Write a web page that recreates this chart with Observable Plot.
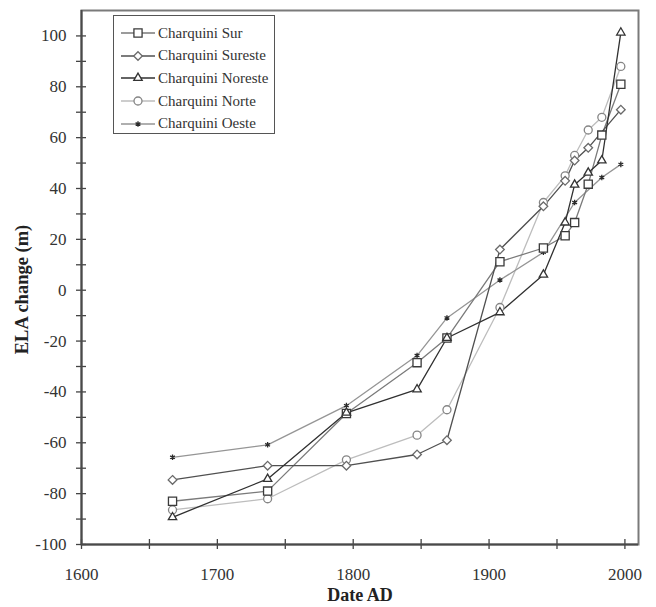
<!DOCTYPE html>
<html><head><meta charset="utf-8">
<script src="https://cdn.jsdelivr.net/npm/d3@7"></script>
<script src="https://cdn.jsdelivr.net/npm/@observablehq/plot@0.6"></script>
<style>
body{margin:0;background:#fff;}
#wrap{position:relative;width:656px;height:607px;}
#legend{position:absolute;left:113px;top:15px;width:162px;height:119px;border:1.5px solid #555;background:#fff;font-family:"Liberation Serif",serif;font-size:15px;color:#333;box-sizing:border-box;padding-top:6px;}
.row{display:flex;align-items:center;height:22.6px;}
.row svg{margin-left:6px;margin-right:2px;}
</style></head>
<body><div id="wrap"><div id="chart"></div><div id="legend"></div></div>
<script>
// ---- data ----
const seriesNames = ["Charquini Sur","Charquini Sureste","Charquini Noreste","Charquini Norte","Charquini Oeste"];
const surDates = [1667,1737,1795,1847,1869,1908,1940,1956,1963,1973,1983,1997];
const surELA   = [-83,-79,-48.5,-28.5,-18.8,11.2,16.6,21.4,26.6,41.7,61,81];
const suresteDates = [1667,1737,1795,1847,1869,1908,1940,1956,1963,1973,1997];
const suresteELA   = [-74.6,-69,-69,-64.6,-59,16,33,43,51,56,71];
const noresteDates = [1667,1737,1795,1847,1869,1908,1940,1956,1963,1973,1983,1997];
const noresteELA   = [-89.3,-74.2,-48.2,-39,-18.8,-8.7,6.1,26.6,41.5,46.2,51,101.3];
const norteDates = [1667,1737,1795,1847,1869,1908,1940,1956,1963,1973,1983,1997];
const norteELA   = [-86.4,-82,-66.7,-57,-47,-6.8,34.5,45,53,63,68,88];
const oesteDates = [1667,1737,1795,1847,1869,1908,1940,1963,1983,1997];
const oesteELA   = [-65.7,-60.8,-45.4,-25.7,-10.9,4,14.9,34.5,44.3,49.5];
const xTickLabels = [1600,1700,1800,1900,2000];
const yTickLabels = [-100,-80,-60,-40,-20,0,20,40,60,80,100];

// ---- styles ----
const styles = {
  "Charquini Sur":     {line:"#7a7a7a", mark:"#3a3a3a", symbol:"square",   r:4.6},
  "Charquini Sureste": {line:"#505050", mark:"#6a6a6a", symbol:"diamond2", r:3.9},
  "Charquini Noreste": {line:"#303030", mark:"#333333", symbol:"triangle2",r:4.0},
  "Charquini Norte":   {line:"#bdbdbd", mark:"#858585", symbol:"circle",   r:4.0},
  "Charquini Oeste":   {line:"#959595", mark:"#2a2a2a", symbol:"asterisk", r:2.6}
};
const seriesData = {
  "Charquini Sur": [surDates, surELA],
  "Charquini Sureste": [suresteDates, suresteELA],
  "Charquini Noreste": [noresteDates, noresteELA],
  "Charquini Norte": [norteDates, norteELA],
  "Charquini Oeste": [oesteDates, oesteELA]
};
const rows = name => seriesData[name][0].map((d,i)=>({series:name, date:d, ela:seriesData[name][1][i]}));
const drawOrder = ["Charquini Norte","Charquini Oeste","Charquini Sur","Charquini Sureste","Charquini Noreste"];

const marks = [
  Plot.frame({stroke:"#7a7a7a", strokeWidth:2}),
  Plot.axisX({ticks:d3.range(1600,2001,50), tickSize:10, dy:-5, tickFormat:()=>"", label:null, stroke:"#444", strokeWidth:1.3}),
  Plot.axisY({ticks:d3.range(-100,101,10), tickSize:10, dx:5, tickFormat:()=>"", label:null, stroke:"#444", strokeWidth:1.3}),
  Plot.axisX({ticks:xTickLabels, tickSize:0, tickPadding:23, tickFormat:d=>String(d), label:null, fill:"#333", fontSize:17}),
  Plot.axisY({ticks:yTickLabels, tickSize:0, tickPadding:15, tickFormat:d=>String(d), label:null, fill:"#333", fontSize:17}),
  Plot.ruleX([1600], {stroke:"#4a4a4a", strokeWidth:2}),
  Plot.ruleY([-100], {stroke:"#4a4a4a", strokeWidth:2}),
  Plot.text(["Date AD"], {frameAnchor:"bottom", textAnchor:"middle", dy:56, fontWeight:"bold", fontSize:18, fill:"#222"}),
  Plot.text(["ELA change (m)"], {frameAnchor:"left", textAnchor:"middle", dx:-59, dy:12, rotate:-90, fontWeight:"bold", fontSize:18.5, fill:"#222"})
];
for (const name of drawOrder) {
  const s = styles[name];
  marks.push(Plot.line(rows(name), {x:"date", y:"ela", stroke:s.line, strokeWidth:1.3}));
}
for (const name of drawOrder) {
  const s = styles[name];
  marks.push(Plot.dot(rows(name), {x:"date", y:"ela", symbol:()=>s.symbol, r:s.r, stroke:s.mark, fill: name==="Charquini Oeste" ? "none" : "white", strokeWidth:1.3}));
}

const chart = Plot.plot({
  width:656, height:607,
  marginLeft:81, marginRight:18, marginTop:10, marginBottom:63,
  style:{fontFamily:"'Liberation Serif', serif", fontSize:"17px", color:"#333", background:"#fff"},
  x:{domain:[1600,2010]},
  y:{domain:[-100,110]},
  symbol:{type:"identity"},
  marks
});
document.getElementById("chart").appendChild(chart);

// ---- legend ----
const symMap = {square:d3.symbolSquare, diamond2:d3.symbolDiamond2, triangle2:d3.symbolTriangle2, circle:d3.symbolCircle, asterisk:d3.symbolAsterisk};
const legend = d3.select("#legend");
for (const name of seriesNames) {
  const s = styles[name];
  const row = legend.append("div").attr("class","row");
  const svg = row.append("svg").attr("width",36).attr("height",14);
  svg.append("line").attr("x1",1).attr("x2",35).attr("y1",7).attr("y2",7).attr("stroke",s.line).attr("stroke-width",1.3);
  svg.append("path").attr("transform","translate(18,7)")
    .attr("d", d3.symbol(symMap[s.symbol], s.r*s.r*Math.PI)())
    .attr("fill", name==="Charquini Oeste" ? "none" : "white").attr("stroke", s.mark).attr("stroke-width",1.3);
  row.append("span").text(name);
}
</script></body></html>
